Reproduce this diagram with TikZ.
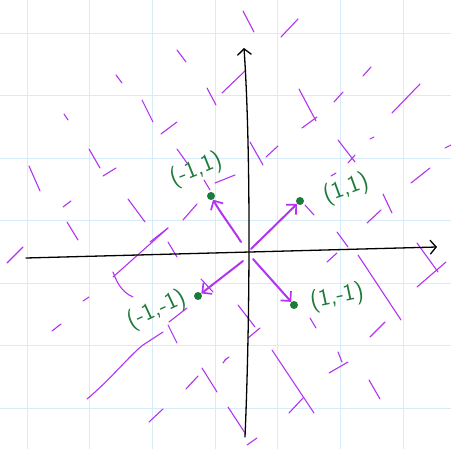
\documentclass[tikz,border=0pt]{standalone}
\usepackage{tikz}
\usetikzlibrary{positioning, arrows.meta, calc}
\definecolor{gridblue}{RGB}{214,236,250}
\definecolor{fieldpurple}{RGB}{178,52,240}
\definecolor{labelgreen}{RGB}{30,122,58}
\tikzset{
  slope/.style={draw=fieldpurple, line width=1.1pt, line cap=round},
  vecarrow/.style={draw=fieldpurple, line width=2pt, line cap=round, -{Straight Barb[length=7pt, width=14pt, line width=1.7pt]}},
  axisline/.style={draw=black, line width=1.3pt, line cap=round, -{Straight Barb[length=6pt, width=14pt, line width=1.3pt]}},
  ptdot/.style={circle, fill=labelgreen, inner sep=0pt, minimum size=8pt},
  ptlabel/.style={text=labelgreen, font=\sffamily\fontsize{24}{24}\selectfont}
}
\begin{document}
\begin{tikzpicture}[x=1pt, y=-1pt]
  \useasboundingbox (0,0) rectangle (451,449);
  \fill[white] (0,0) rectangle (451,449);
  % paper grid
  \foreach \g in {0,...,6} {
    \draw[gridblue, line width=0.9pt] ({27+62.7*\g},0) -- ({27+62.7*\g},449);
    \draw[gridblue, line width=0.9pt] (0,{33+62.5*\g}) -- (451,{33+62.5*\g});
  }
  % slope field strokes
  \foreach \xa/\ya/\xb/\yb in {177/50/186/62, 116/75/122/83, 207/88/216/105, 222/93/245/71,
      64/114/68/120, 142/100/153/122, 161/134/177/122, 177/149/187/163, 89/149/100/168,
      103/176/116/168, 29/166/40/191, 63/207/71/201, 128/199/145/222, 183/220/197/204,
      67/222/78/240, 204/180/210/190, 215/183/235/175, 243/11/254/32, 281/37/298/19,
      299/89/316/121, 302/128/317/117, 334/102/343/92, 363/76/371/67, 392/113/420/84,
      370/139/374/137, 445/148/451/145, 250/142/263/165, 266/157/278/146, 338/140/355/162,
      348/163/355/155, 331/176/336/173, 411/183/430/168, 383/194/392/213, 367/223/381/210,
      305/205/314/215, 150/242/168/228, 168/242/177/257, 7/263/23/247, 113/277/168/228,
      83/301/89/297, 52/331/61/324, 168/325/177/343, 169/322/187/308, 202/368/217/392,
      186/389/198/376, 149/422/163/409, 223/363/226/359, 337/232/348/247, 327/262/337/253,
      358/255/401/320, 417/243/438/272, 417/287/446/262, 238/305/255/327, 248/338/260/328,
      225/360/229/357, 272/350/314/413, 289/413/303/398, 329/373/348/362, 338/352/342/362,
      369/380/380/399, 370/337/385/322, 228/407/245/433, 247/445/257/438, 310/318/316/328,
      201/279/213/292} {
    \draw[slope] (\xa,\ya) -- (\xb,\yb);
  }
  \draw[slope] (113,272) .. controls (118,286) and (124,293) .. (133,297);
  \draw[slope] (87,399) .. controls (110,380) and (130,355) .. (143,345) -- (163,332);
  % axes
  \coordinate (xstart) at (26,258);
  \coordinate (xend) at (437,247);
  \coordinate (ystart) at (245,437);
  \coordinate (yend) at (244,48);
  \draw[axisline] (xstart) -- (xend);
  \draw[axisline] (ystart) .. controls (250,320) and (251,150) .. (yend);
  % points
  \node[ptdot] (mm) at (198,296) {};
  \node[ptdot] (mp) at (211,196) {};
  \node[ptdot] (pp) at (300,201) {};
  \node[ptdot] (pm) at (294,305) {};
  % vectors from the origin
  \coordinate (smp) at (241,242);
  \coordinate (spp) at (251,249);
  \coordinate (smm) at (243,261);
  \coordinate (spm) at (253,259);
  \draw[vecarrow] (smp) .. controls (230,225) and (220,212) .. (mp);
  \draw[vecarrow] (spp) -- (pp);
  \draw[vecarrow] (smm) -- (mm);
  \draw[vecarrow] (spm) -- (pm);
  % labels
  \node[ptlabel, rotate=22] (lmp) at (196,170) {(-1,1)};
  \node[ptlabel, rotate=20] (lpp) at (346,189) {(1,1)};
  \node[ptlabel, rotate=25] (lmm) at (157,310) {(-1,-1)};
  \node[ptlabel, rotate=12] (lpm) at (337,297) {(1,-1)};
\end{tikzpicture}
\end{document}
